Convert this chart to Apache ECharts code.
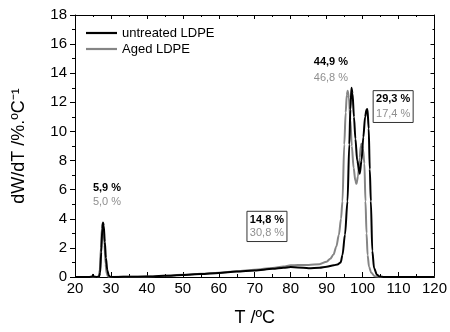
<!DOCTYPE html>
<html>
<head>
<meta charset="utf-8">
<script src="https://cdn.jsdelivr.net/npm/echarts@6/dist/echarts.min.js"></script>
<style>html,body{margin:0;padding:0;background:#fff}#c{width:450px;height:332px}</style>
</head>
<body>
<div id="c"></div>
<script>
// ---- Data ----
const seriesNames = ['untreated LDPE', 'Aged LDPE'];

const tempUntreated = [20, 24, 24.8, 25, 25.2, 26, 26.7, 27.0, 27.3, 27.6, 27.8, 28.0, 28.3, 28.6, 29.0, 29.4, 29.8, 32, 35, 40, 45, 50, 55, 60, 65, 70, 75, 78, 80, 82, 85, 88, 90, 92, 93, 93.9, 94.4, 95.1, 95.8, 96.3, 96.6, 96.9, 97.2, 97.6, 98.0, 98.5, 99.2, 99.7, 100.2, 100.7, 101.1, 101.35, 101.7, 102.0, 102.3, 102.7, 103.2, 104.0, 104.8, 106, 110, 120];
const valUntreated  = [0, 0, 0.02, 0.15, 0.02, 0, 0.02, 0.3, 1.7, 3.3, 3.75, 3.5, 2.4, 1.3, 0.45, 0.1, 0.01, 0, 0.02, 0.03, 0.08, 0.14, 0.2, 0.28, 0.37, 0.45, 0.56, 0.64, 0.68, 0.66, 0.6, 0.63, 0.7, 0.8, 0.86, 1.0, 1.5, 2.9, 5.2, 9.1, 11.5, 13.0, 12.6, 11.0, 9.5, 8.0, 7.1, 8.0, 9.6, 11.0, 11.5, 11.55, 10.2, 7.4, 5.2, 1.8, 0.6, 0.15, 0.03, 0, 0, 0];

const tempAged = [20, 26, 26.6, 26.9, 27.2, 27.5, 27.7, 27.9, 28.2, 28.5, 28.8, 29.2, 30, 35, 40, 45, 50, 55, 60, 65, 70, 75, 78, 80, 82, 85, 88, 90, 91, 91.9, 92.7, 93.4, 94.0, 94.4, 94.9, 95.3, 95.6, 95.85, 96.2, 96.6, 97.0, 97.5, 98.0, 98.3, 98.7, 99.2, 99.5, 99.7, 100.1, 100.5, 100.8, 101.1, 101.4, 101.8, 102.4, 103.4, 105, 110, 120];
const valAged  = [0, 0, 0, 0.5, 2.0, 3.4, 3.7, 3.4, 2.2, 0.9, 0.25, 0.03, 0, 0.02, 0.03, 0.09, 0.15, 0.22, 0.3, 0.4, 0.5, 0.62, 0.72, 0.8, 0.82, 0.83, 0.88, 1.05, 1.25, 1.54, 2.1, 2.9, 4.0, 5.2, 9.1, 11.3, 12.5, 12.8, 12.3, 10.8, 9.0, 7.5, 6.6, 6.4, 6.9, 8.2, 9.0, 9.15, 8.8, 7.8, 5.2, 3.0, 1.5, 0.7, 0.3, 0.05, 0, 0, 0];

// Annotations: [T, y(line1), y(line2), boxed]
const annotT      = [28.9, 73.4, 91.2, 108.5];
const annotY1     = [6.09, 3.93, 14.77, 12.22];
const annotY2     = [5.18, 3.02, 13.70, 11.20];
const annotTop    = ['5,9 %', '14,8 %', '44,9 %', '29,3 %'];
const annotBottom = ['5,0 %', '30,8 %', '46,8 %', '17,4 %'];
const annotBoxed  = [false, true, false, true];

const xTicks = {min: 20, max: 120, interval: 10};
const yTicks = {min: 0, max: 18, interval: 2};

// ---- Build ----
const zip = (a, b) => a.map((t, i) => [t, b[i]]);
const FONT = 'Liberation Sans, Arial, sans-serif';
const chart = echarts.init(document.getElementById('c'), null, {renderer: 'canvas'});

const axisLineStyle = {color: '#000', width: 1};
const option = {
  animation: false,
  backgroundColor: '#fff',
  grid: {left: 75, right: 13, top: 15, bottom: 53, containLabel: false},
  legend: {
    data: seriesNames,
    orient: 'vertical',
    left: 86, top: 26.5, padding: 0,
    icon: 'rect',
    itemWidth: 31, itemHeight: 2.2, itemGap: 3,
    textStyle: {fontFamily: FONT, fontSize: 13, color: '#000'}
  },
  xAxis: [
    {
      type: 'value', min: xTicks.min, max: xTicks.max, interval: xTicks.interval,
      name: 'T /ºC', nameLocation: 'middle', nameGap: 32,
      nameTextStyle: {fontFamily: FONT, fontSize: 18, color: '#000'},
      axisLine: {show: true, onZero: false, lineStyle: axisLineStyle},
      axisTick: {show: true, inside: true, length: 5, lineStyle: axisLineStyle},
      minorTick: {show: true, splitNumber: 2, length: 3, lineStyle: {color: '#000'}},
      axisLabel: {fontFamily: FONT, fontSize: 15, color: '#000', margin: 4},
      splitLine: {show: false}
    },
    {
      type: 'value', position: 'top', min: xTicks.min, max: xTicks.max, interval: xTicks.interval,
      axisLine: {show: true, onZero: false, lineStyle: axisLineStyle},
      axisTick: {show: true, inside: true, length: 4, lineStyle: axisLineStyle},
      minorTick: {show: true, splitNumber: 2, length: 2, lineStyle: {color: '#000'}},
      axisLabel: {show: false}, splitLine: {show: false}
    }
  ],
  yAxis: [
    {
      type: 'value', min: yTicks.min, max: yTicks.max, interval: yTicks.interval,
      name: 'dW/dT /%.ºC⁻¹', nameLocation: 'middle', nameGap: 47,
      nameTextStyle: {fontFamily: FONT, fontSize: 18, color: '#000'},
      axisLine: {show: true, onZero: false, lineStyle: axisLineStyle},
      axisTick: {show: true, inside: false, length: 5, lineStyle: axisLineStyle},
      minorTick: {show: true, splitNumber: 2, length: 3, lineStyle: {color: '#000'}},
      axisLabel: {fontFamily: FONT, fontSize: 15, color: '#000', margin: 8},
      splitLine: {show: false}
    },
    {
      type: 'value', position: 'right', min: yTicks.min, max: yTicks.max, interval: yTicks.interval,
      axisLine: {show: true, onZero: false, lineStyle: axisLineStyle},
      axisTick: {show: true, inside: true, length: 4, lineStyle: axisLineStyle},
      minorTick: {show: true, splitNumber: 2, length: 2, lineStyle: {color: '#000'}},
      axisLabel: {show: false}, splitLine: {show: false}
    }
  ],
  series: [
    {
      name: 'Aged LDPE', type: 'line', xAxisIndex: 0, yAxisIndex: 0,
      data: zip(tempAged, valAged), symbol: 'none', smooth: 0.3, smoothMonotone: 'x',
      lineStyle: {color: '#858585', width: 2}, itemStyle: {color: '#858585'}, z: 2
    },
    {
      name: 'untreated LDPE', type: 'line', xAxisIndex: 0, yAxisIndex: 0,
      data: zip(tempUntreated, valUntreated), symbol: 'none', smooth: 0.3, smoothMonotone: 'x',
      lineStyle: {color: '#000', width: 2}, itemStyle: {color: '#000'}, z: 3
    }
  ]
};
chart.setOption(option);

// annotations positioned in data coordinates
const graphics = [];
for (let i = 0; i < annotT.length; i++) {
  const p1 = chart.convertToPixel({xAxisIndex: 0, yAxisIndex: 0}, [annotT[i], annotY1[i]]);
  const p2 = chart.convertToPixel({xAxisIndex: 0, yAxisIndex: 0}, [annotT[i], annotY2[i]]);
  if (annotBoxed[i]) {
    const halfW = 20, pad = 8.5;
    graphics.push({
      type: 'rect', z: 10,
      shape: {x: p1[0] - halfW, y: p1[1] - pad, width: halfW * 2, height: (p2[1] - p1[1]) + pad * 2},
      style: {fill: '#fff', stroke: '#333', lineWidth: 1}
    });
  }
  graphics.push({
    type: 'text', z: 11, x: p1[0], y: p1[1],
    style: {text: annotTop[i], fill: '#000', font: 'bold 11px ' + FONT, textAlign: 'center', textVerticalAlign: 'middle'}
  });
  graphics.push({
    type: 'text', z: 11, x: p2[0], y: p2[1],
    style: {text: annotBottom[i], fill: '#8f8f8f', font: '11px ' + FONT, textAlign: 'center', textVerticalAlign: 'middle'}
  });
}
chart.setOption({graphic: graphics});
</script>
</body>
</html>
